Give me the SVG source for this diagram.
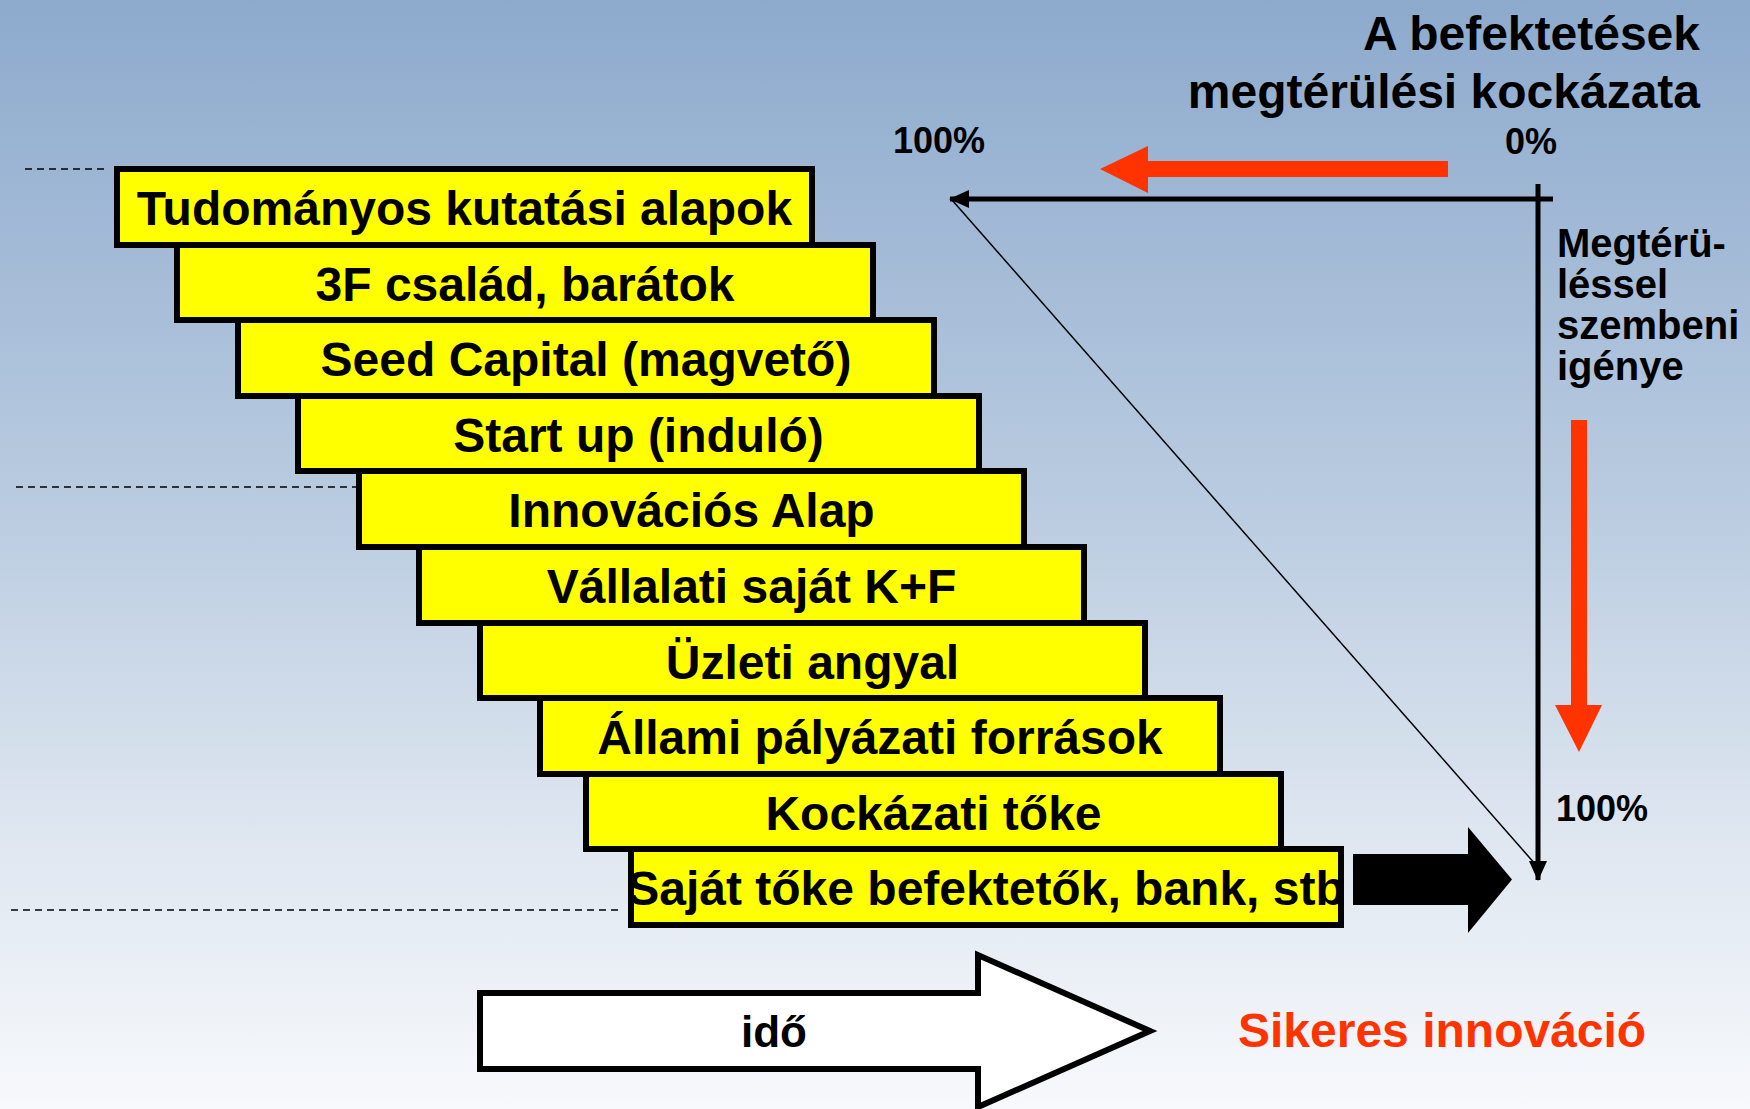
<svg xmlns="http://www.w3.org/2000/svg" width="1750" height="1109" viewBox="0 0 1750 1109">
<defs>
<linearGradient id="bg" x1="0" y1="0" x2="0" y2="1">
<stop offset="0" stop-color="#8DAACD"/>
<stop offset="0.45" stop-color="#B9CBE0"/>
<stop offset="0.75" stop-color="#DEE6F0"/>
<stop offset="1" stop-color="#F7F9FC"/>
</linearGradient>
<marker id="ah" viewBox="0 0 20 20" refX="19" refY="10" markerWidth="20" markerHeight="20" markerUnits="userSpaceOnUse" orient="auto">
<path d="M0,1 L20,10 L0,19 Z" fill="#000"/>
</marker>
</defs>
<style>
.box{fill:#FFFF00;stroke:#000;stroke-width:6}
.bt{font-family:"Liberation Sans",Arial,sans-serif;font-weight:bold;font-size:48px;fill:#000;text-anchor:middle}
.lbl{font-family:"Liberation Sans",Arial,sans-serif;font-weight:bold;fill:#000}
.dash{stroke:#000;stroke-width:1.5;stroke-dasharray:7 5;fill:none}
.red{fill:#FF3300}
</style>
<rect x="0" y="0" width="1750" height="1109" fill="url(#bg)"/>

<g id="guides">
<line class="dash" x1="25" y1="169" x2="104" y2="169"/>
<line class="dash" x1="16" y1="487" x2="356" y2="487"/>
<line class="dash" x1="11" y1="910" x2="618" y2="910"/>
</g>

<g id="box1"><rect class="box" x="117" y="169" width="695" height="76"/><text class="bt" x="464.5" y="225">Tudományos kutatási alapok</text></g>
<g id="box2"><rect class="box" x="177" y="245" width="696" height="75"/><text class="bt" x="525" y="301">3F család, barátok</text></g>
<g id="box3"><rect class="box" x="238" y="320" width="696" height="76"/><text class="bt" x="586" y="376">Seed Capital (magvető)</text></g>
<g id="box4"><rect class="box" x="298" y="396" width="681" height="75"/><text class="bt" x="638.5" y="451.5">Start up (induló)</text></g>
<g id="box5"><rect class="box" x="359" y="471" width="665" height="76"/><text class="bt" x="691.5" y="527">Innovációs Alap</text></g>
<g id="box6"><rect class="box" x="419" y="547" width="665" height="76"/><text class="bt" x="751.5" y="603">Vállalati saját K+F</text></g>
<g id="box7"><rect class="box" x="480" y="623" width="665" height="75"/><text class="bt" x="812.5" y="678.5">Üzleti angyal</text></g>
<g id="box8"><rect class="box" x="540" y="698" width="680" height="76"/><text class="bt" x="880" y="754">Állami pályázati források</text></g>
<g id="box9"><rect class="box" x="586" y="774" width="695" height="75"/><text class="bt" x="933.5" y="829.5">Kockázati tőke</text></g>
<g id="box10"><rect class="box" x="631" y="849" width="710" height="76"/><text class="bt" x="986" y="905">Saját tőke befektetők, bank, stb</text></g>

<g id="connectors">
<line x1="1553" y1="199" x2="950" y2="199" stroke="#000" stroke-width="5" marker-end="url(#ah)"/>
<line x1="1538" y1="184" x2="1538" y2="880" stroke="#000" stroke-width="5" marker-end="url(#ah)"/>
<line x1="952" y1="200" x2="1536" y2="865" stroke="#000" stroke-width="1.5"/>
<polygon class="red" points="1448,161 1148,161 1148,146 1100,169 1148,193 1148,177 1448,177"/>
<polygon class="red" points="1571,420 1587,420 1587,705 1602,705 1579,752 1555,705 1571,705"/>
<polygon points="1353,854 1468,854 1468,827 1512,879.5 1468,933 1468,905 1353,905" fill="#000"/>
</g>

<g id="time-arrow">
<polygon points="480,993 978,993 978,955 1150,1031 978,1107 978,1069 480,1069" fill="#FFFFFF" stroke="#000" stroke-width="6" stroke-linejoin="miter"/>
<text class="lbl" x="774" y="1047" font-size="44" text-anchor="middle">idő</text>
</g>

<g id="labels">
<text class="lbl" x="1700" y="50" font-size="48" text-anchor="end">A befektetések</text>
<text class="lbl" x="1700" y="108" font-size="48" text-anchor="end">megtérülési kockázata</text>
<text class="lbl" x="893" y="153" font-size="36">100%</text>
<text class="lbl" x="1505" y="154" font-size="36">0%</text>
<text class="lbl" x="1556" y="821" font-size="36">100%</text>
<text class="lbl" font-size="40"><tspan x="1557" y="257">Megtérü-</tspan><tspan x="1557" y="298">léssel</tspan><tspan x="1557" y="339">szembeni</tspan><tspan x="1557" y="380">igénye</tspan></text>
<text class="lbl" x="1238" y="1047" font-size="48" fill="#FF3300" style="fill:#FF3300">Sikeres innováció</text>
</g>
</svg>
